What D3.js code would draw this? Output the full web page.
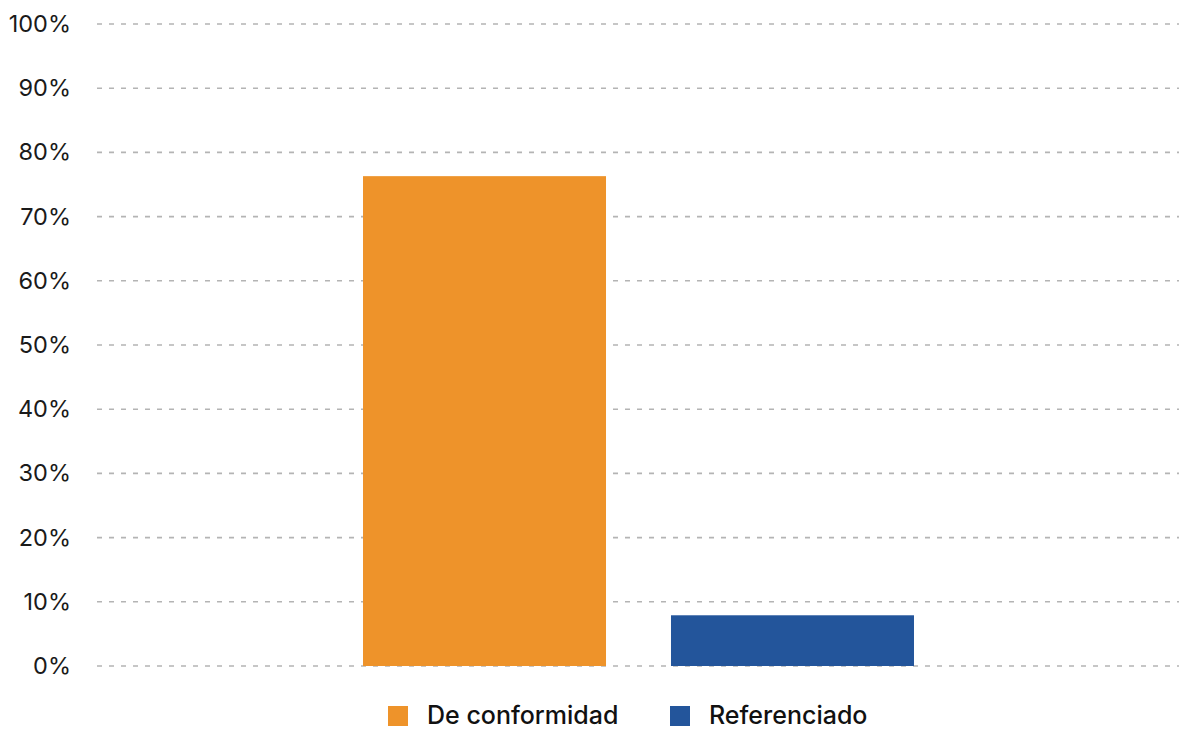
<!DOCTYPE html>
<html>
<head>
<meta charset="utf-8">
<script src="https://cdn.jsdelivr.net/npm/d3@7"></script>
<style>
  html, body { margin: 0; padding: 0; background: #fff; }
  svg { display: block; font-family: Inter, "Noto Sans", sans-serif; }
</style>
</head>
<body>
<svg id="chart" width="1179" height="729"></svg>
<script>
// Share of cases by type
const categories = [""];
const seriesNames = ["De conformidad", "Referenciado"];
const seriesValues = [76.3, 7.9];
const seriesColors = ["#EE932A", "#23559B"];
const yTicks = [0, 10, 20, 30, 40, 50, 60, 70, 80, 90, 100];

const svg = d3.select("#chart");
const margin = { top: 24, bottom: 63, left: 97 };
const width = 1179, height = 729;

const y = d3.scaleLinear()
  .domain([0, 100])
  .range([height - margin.bottom, margin.top]);

const x0 = d3.scaleBand()
  .domain(categories)
  .range([margin.left, 1180])
  .paddingInner(0)
  .paddingOuter(0.4828);

const x1 = d3.scaleBand()
  .domain(seriesNames)
  .range([0, x0.bandwidth()])
  .paddingInner(0.211);

// dashed horizontal gridlines
svg.append("g")
  .selectAll("line")
  .data(yTicks)
  .join("line")
  .attr("x1", margin.left)
  .attr("x2", width)
  .attr("y1", d => y(d))
  .attr("y2", d => y(d))
  .attr("stroke", "#b4b4b4")
  .attr("stroke-width", 1.6)
  .attr("stroke-dasharray", "5,7");

// y axis labels
const yAxis = d3.axisLeft(y)
  .tickValues(yTicks)
  .tickFormat(d => d + "%")
  .tickSize(0)
  .tickPadding(0);

const yg = svg.append("g")
  .attr("transform", `translate(${71},0)`)
  .call(yAxis);
yg.select(".domain").remove();
yg.selectAll("text")
  .attr("fill", "#1a1a1a")
  .style("font-size", "23.5px")
  .style("font-family", "Inter, 'Noto Sans', sans-serif");

// bars
const data = seriesNames.map((name, i) => ({ cat: categories[0], name, value: seriesValues[i], color: seriesColors[i] }));
svg.append("g")
  .selectAll("rect")
  .data(data)
  .join("rect")
  .attr("x", d => x0(d.cat) + x1(d.name))
  .attr("width", x1.bandwidth())
  .attr("y", d => y(d.value))
  .attr("height", d => y(0) - y(d.value))
  .attr("fill", d => d.color);

// legend
const legendItems = [
  { name: seriesNames[0], color: seriesColors[0], x: 388 },
  { name: seriesNames[1], color: seriesColors[1], x: 670 }
];
const lg = svg.append("g");
const items = lg.selectAll("g")
  .data(legendItems)
  .join("g")
  .attr("transform", d => `translate(${d.x},706)`);
items.append("rect")
  .attr("width", 20)
  .attr("height", 20)
  .attr("fill", d => d.color);
items.append("text")
  .attr("x", 39)
  .attr("y", 18)
  .attr("fill", "#111")
  .style("font-size", "25px")
  .style("font-weight", 500)
  .text(d => d.name);
</script>
</body>
</html>
